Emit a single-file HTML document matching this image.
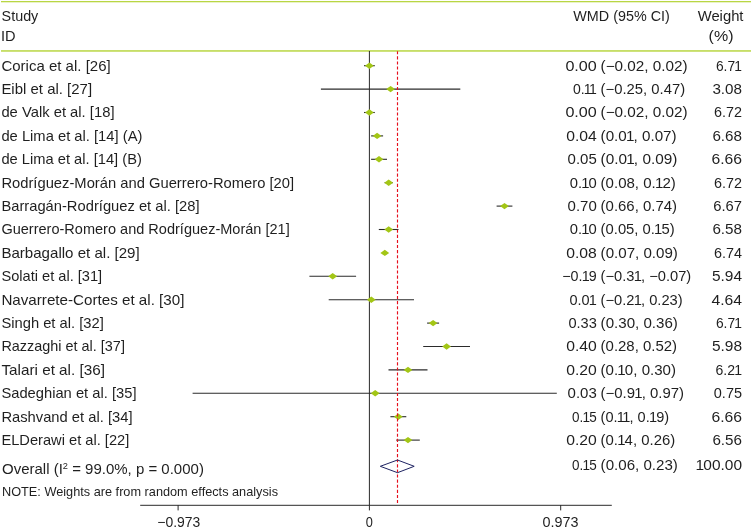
<!DOCTYPE html>
<html lang="en"><head><meta charset="utf-8"><title>Forest plot</title>
<style>
html,body{margin:0;padding:0;background:#fff;}
svg{display:block;will-change:transform;}
text{font-family:"Liberation Sans",sans-serif;font-size:14.6px;fill:#1f1f1f;}
.s{font-size:12.2px}
.n{font-size:14.2px}
.a{font-size:13.8px}
</style></head><body>
<svg width="752" height="529" viewBox="0 0 752 529">
<rect width="752" height="529" fill="#fff"/>
<rect x="1" y="1" width="750" height="1.3" fill="#b9d644"/>
<rect x="1" y="50.2" width="750" height="1.5" fill="#b9d644"/>
<text x="1.6" y="20.9" textLength="36.7" lengthAdjust="spacingAndGlyphs" text-anchor="start">Study</text>
<text x="0.9" y="40.6" textLength="14.6" lengthAdjust="spacingAndGlyphs" text-anchor="start">ID</text>
<text x="573.3" y="20.8" textLength="96.5" lengthAdjust="spacingAndGlyphs" text-anchor="start">WMD (95% CI)</text>
<text x="697.7" y="20.8" textLength="45.8" lengthAdjust="spacingAndGlyphs" text-anchor="start">Weight</text>
<text x="708.6" y="41.0" textLength="24.9" lengthAdjust="spacingAndGlyphs" text-anchor="start">(%)</text>
<line x1="369.4" y1="51" x2="369.4" y2="505" stroke="#2a2a2a" stroke-width="1"/>
<line x1="140.2" y1="505.3" x2="611.8" y2="505.3" stroke="#2b2b2b" stroke-width="1"/>
<line x1="178.1" y1="505" x2="178.1" y2="510.4" stroke="#2b2b2b" stroke-width="1"/>
<line x1="369.4" y1="505" x2="369.4" y2="510.4" stroke="#2b2b2b" stroke-width="1"/>
<line x1="560.7" y1="505" x2="560.7" y2="510.4" stroke="#2b2b2b" stroke-width="1"/>
<text x="157.3" y="526.8" textLength="43.0" lengthAdjust="spacingAndGlyphs" text-anchor="start" class="a">−0.973</text>
<text x="365.7" y="526.8" textLength="7.1" lengthAdjust="spacingAndGlyphs" text-anchor="start" class="a">0</text>
<text x="542.5" y="526.8" textLength="36.0" lengthAdjust="spacingAndGlyphs" text-anchor="start" class="a">0.973</text>
<text x="1.4" y="70.5" textLength="109.3" lengthAdjust="spacingAndGlyphs" text-anchor="start">Corica et al. [26]</text>
<text class="n" x="565.4" y="70.5" textLength="31.4" lengthAdjust="spacingAndGlyphs">0.00</text>
<text class="n" x="600.6" y="70.5" textLength="87.1" lengthAdjust="spacingAndGlyphs">(−0.02, 0.02)</text>
<text class="n" x="715.9" y="70.5" dx="0 0 0 -0.8" textLength="26.1" lengthAdjust="spacingAndGlyphs">6.71</text>
<line x1="364.0" y1="65.7" x2="374.8" y2="65.7" stroke="#2b2b2b" stroke-width="1.1"/>
<polygon points="365.0,65.7 369.4,62.5 373.8,65.7 369.4,68.9" fill="#a3c616"/>
<text x="1.4" y="93.9" textLength="90.7" lengthAdjust="spacingAndGlyphs" text-anchor="start">Eibl et al. [27]</text>
<text class="n" x="572.9" y="93.9" dx="0 0 -0.8 -1.6" textLength="23.9" lengthAdjust="spacingAndGlyphs">0.11</text>
<text class="n" x="600.6" y="93.9" textLength="84.5" lengthAdjust="spacingAndGlyphs">(−0.25, 0.47)</text>
<text class="n" x="712.4" y="93.9" textLength="29.6" lengthAdjust="spacingAndGlyphs">3.08</text>
<line x1="320.9" y1="89.1" x2="460.3" y2="89.1" stroke="#2b2b2b" stroke-width="1.1"/>
<polygon points="386.2,89.1 390.6,85.9 395.0,89.1 390.6,92.3" fill="#a3c616"/>
<text x="1.4" y="117.3" textLength="113.1" lengthAdjust="spacingAndGlyphs" text-anchor="start">de Valk et al. [18]</text>
<text class="n" x="565.4" y="117.3" textLength="31.4" lengthAdjust="spacingAndGlyphs">0.00</text>
<text class="n" x="600.6" y="117.3" textLength="87.1" lengthAdjust="spacingAndGlyphs">(−0.02, 0.02)</text>
<text class="n" x="714.0" y="117.3" textLength="28.0" lengthAdjust="spacingAndGlyphs">6.72</text>
<line x1="364.0" y1="112.5" x2="374.8" y2="112.5" stroke="#2b2b2b" stroke-width="1.1"/>
<polygon points="365.0,112.5 369.4,109.3 373.8,112.5 369.4,115.7" fill="#a3c616"/>
<text x="1.4" y="140.7" textLength="141.0" lengthAdjust="spacingAndGlyphs" text-anchor="start">de Lima et al. [14] (A)</text>
<text class="n" x="566.2" y="140.7" textLength="30.6" lengthAdjust="spacingAndGlyphs">0.04</text>
<text class="n" x="600.6" y="140.7" dx="0 0 0 0 -0.8 -0.8 0 0 0 0 0 0" textLength="76.0" lengthAdjust="spacingAndGlyphs">(0.01, 0.07)</text>
<text class="n" x="712.4" y="140.7" textLength="29.6" lengthAdjust="spacingAndGlyphs">6.68</text>
<line x1="371.1" y1="135.9" x2="383.1" y2="135.9" stroke="#2b2b2b" stroke-width="1.1"/>
<polygon points="372.7,135.9 377.1,132.7 381.5,135.9 377.1,139.1" fill="#a3c616"/>
<text x="1.4" y="164.1" textLength="140.5" lengthAdjust="spacingAndGlyphs" text-anchor="start">de Lima et al. [14] (B)</text>
<text class="n" x="567.6" y="164.1" textLength="29.2" lengthAdjust="spacingAndGlyphs">0.05</text>
<text class="n" x="600.6" y="164.1" dx="0 0 0 0 -0.8 -0.8 0 0 0 0 0 0" textLength="76.8" lengthAdjust="spacingAndGlyphs">(0.01, 0.09)</text>
<text class="n" x="711.4" y="164.1" textLength="30.6" lengthAdjust="spacingAndGlyphs">6.66</text>
<line x1="371.1" y1="159.3" x2="387.0" y2="159.3" stroke="#2b2b2b" stroke-width="1.1"/>
<polygon points="374.6,159.3 379.0,156.1 383.4,159.3 379.0,162.5" fill="#a3c616"/>
<text x="1.4" y="187.5" textLength="292.7" lengthAdjust="spacingAndGlyphs" text-anchor="start">Rodríguez-Morán and Guerrero-Romero [20]</text>
<text class="n" x="569.7" y="187.5" dx="0 0 -0.8 -0.8" textLength="27.1" lengthAdjust="spacingAndGlyphs">0.10</text>
<text class="n" x="600.6" y="187.5" dx="0 0 0 0 0 0 0 0 0 -0.8 -0.8 0" textLength="75.2" lengthAdjust="spacingAndGlyphs">(0.08, 0.12)</text>
<text class="n" x="714.0" y="187.5" textLength="28.0" lengthAdjust="spacingAndGlyphs">6.72</text>
<line x1="384.6" y1="182.7" x2="392.8" y2="182.7" stroke="#2b2b2b" stroke-width="1.1"/>
<polygon points="384.3,182.7 388.7,179.5 393.1,182.7 388.7,185.9" fill="#a3c616"/>
<text x="1.4" y="210.9" textLength="198.1" lengthAdjust="spacingAndGlyphs" text-anchor="start">Barragán-Rodríguez et al. [28]</text>
<text class="n" x="567.6" y="210.9" textLength="29.2" lengthAdjust="spacingAndGlyphs">0.70</text>
<text class="n" x="600.6" y="210.9" textLength="76.5" lengthAdjust="spacingAndGlyphs">(0.66, 0.74)</text>
<text class="n" x="713.2" y="210.9" textLength="28.8" lengthAdjust="spacingAndGlyphs">6.67</text>
<line x1="496.6" y1="206.1" x2="512.4" y2="206.1" stroke="#2b2b2b" stroke-width="1.1"/>
<polygon points="500.1,206.1 504.5,202.9 508.9,206.1 504.5,209.3" fill="#a3c616"/>
<text x="1.4" y="234.3" textLength="288.3" lengthAdjust="spacingAndGlyphs" text-anchor="start">Guerrero-Romero and Rodríguez-Morán [21]</text>
<text class="n" x="569.7" y="234.3" dx="0 0 -0.8 -0.8" textLength="27.1" lengthAdjust="spacingAndGlyphs">0.10</text>
<text class="n" x="600.6" y="234.3" dx="0 0 0 0 0 0 0 0 0 -0.8 -0.8 0" textLength="74.1" lengthAdjust="spacingAndGlyphs">(0.05, 0.15)</text>
<text class="n" x="712.4" y="234.3" textLength="29.6" lengthAdjust="spacingAndGlyphs">6.58</text>
<line x1="378.8" y1="229.5" x2="398.5" y2="229.5" stroke="#2b2b2b" stroke-width="1.1"/>
<polygon points="384.3,229.5 388.7,226.3 393.1,229.5 388.7,232.7" fill="#a3c616"/>
<text x="1.4" y="257.7" textLength="138.3" lengthAdjust="spacingAndGlyphs" text-anchor="start">Barbagallo et al. [29]</text>
<text class="n" x="566.2" y="257.7" textLength="30.6" lengthAdjust="spacingAndGlyphs">0.08</text>
<text class="n" x="600.6" y="257.7" textLength="77.3" lengthAdjust="spacingAndGlyphs">(0.07, 0.09)</text>
<text class="n" x="714.0" y="257.7" textLength="28.0" lengthAdjust="spacingAndGlyphs">6.74</text>
<line x1="382.7" y1="252.9" x2="387.0" y2="252.9" stroke="#2b2b2b" stroke-width="1.1"/>
<polygon points="380.4,252.9 384.8,249.7 389.2,252.9 384.8,256.1" fill="#a3c616"/>
<text x="1.4" y="281.1" textLength="100.8" lengthAdjust="spacingAndGlyphs" text-anchor="start">Solati et al. [31]</text>
<text class="n" x="562.2" y="281.1" dx="0 0 0 -0.8 -0.8" textLength="34.6" lengthAdjust="spacingAndGlyphs">−0.19</text>
<text class="n" x="600.6" y="281.1" dx="0 0 0 0 0 -0.8 -0.8 0 0 0 0 0 0 0" textLength="90.6" lengthAdjust="spacingAndGlyphs">(−0.31, −0.07)</text>
<text class="n" x="711.9" y="281.1" textLength="30.1" lengthAdjust="spacingAndGlyphs">5.94</text>
<line x1="309.4" y1="276.3" x2="356.1" y2="276.3" stroke="#2b2b2b" stroke-width="1.1"/>
<polygon points="328.3,276.3 332.7,273.1 337.1,276.3 332.7,279.5" fill="#a3c616"/>
<text x="1.4" y="304.5" textLength="183.0" lengthAdjust="spacingAndGlyphs" text-anchor="start">Navarrete-Cortes et al. [30]</text>
<text class="n" x="569.4" y="304.5" dx="0 0 0 -0.8" textLength="27.4" lengthAdjust="spacingAndGlyphs">0.01</text>
<text class="n" x="600.6" y="304.5" dx="0 0 0 0 0 -0.8 -0.8 0 0 0 0 0 0" textLength="82.1" lengthAdjust="spacingAndGlyphs">(−0.21, 0.23)</text>
<text class="n" x="711.4" y="304.5" textLength="30.6" lengthAdjust="spacingAndGlyphs">4.64</text>
<line x1="328.7" y1="299.7" x2="414.0" y2="299.7" stroke="#2b2b2b" stroke-width="1.1"/>
<polygon points="366.9,299.7 371.3,296.5 375.7,299.7 371.3,302.9" fill="#a3c616"/>
<text x="1.4" y="327.9" textLength="102.4" lengthAdjust="spacingAndGlyphs" text-anchor="start">Singh et al. [32]</text>
<text class="n" x="568.4" y="327.9" textLength="28.4" lengthAdjust="spacingAndGlyphs">0.33</text>
<text class="n" x="600.6" y="327.9" textLength="77.3" lengthAdjust="spacingAndGlyphs">(0.30, 0.36)</text>
<text class="n" x="715.9" y="327.9" dx="0 0 0 -0.8" textLength="26.1" lengthAdjust="spacingAndGlyphs">6.71</text>
<line x1="427.1" y1="323.1" x2="439.1" y2="323.1" stroke="#2b2b2b" stroke-width="1.1"/>
<polygon points="428.7,323.1 433.1,319.9 437.5,323.1 433.1,326.3" fill="#a3c616"/>
<text x="1.4" y="351.3" textLength="123.5" lengthAdjust="spacingAndGlyphs" text-anchor="start">Razzaghi et al. [37]</text>
<text class="n" x="566.2" y="351.3" textLength="30.6" lengthAdjust="spacingAndGlyphs">0.40</text>
<text class="n" x="600.6" y="351.3" textLength="76.5" lengthAdjust="spacingAndGlyphs">(0.28, 0.52)</text>
<text class="n" x="711.9" y="351.3" textLength="30.1" lengthAdjust="spacingAndGlyphs">5.98</text>
<line x1="423.2" y1="346.5" x2="470.0" y2="346.5" stroke="#2b2b2b" stroke-width="1.1"/>
<polygon points="442.2,346.5 446.6,343.3 451.0,346.5 446.6,349.7" fill="#a3c616"/>
<text x="1.4" y="374.7" textLength="103.6" lengthAdjust="spacingAndGlyphs" text-anchor="start">Talari et al. [36]</text>
<text class="n" x="566.2" y="374.7" textLength="30.6" lengthAdjust="spacingAndGlyphs">0.20</text>
<text class="n" x="600.6" y="374.7" dx="0 0 0 -0.8 -0.8 0 0 0 0 0 0 0" textLength="75.4" lengthAdjust="spacingAndGlyphs">(0.10, 0.30)</text>
<text class="n" x="715.4" y="374.7" dx="0 0 0 -0.8" textLength="26.6" lengthAdjust="spacingAndGlyphs">6.21</text>
<line x1="388.5" y1="369.9" x2="427.5" y2="369.9" stroke="#2b2b2b" stroke-width="1.1"/>
<polygon points="403.6,369.9 408.0,366.7 412.4,369.9 408.0,373.1" fill="#a3c616"/>
<text x="1.4" y="398.1" textLength="135.1" lengthAdjust="spacingAndGlyphs" text-anchor="start">Sadeghian et al. [35]</text>
<text class="n" x="567.6" y="398.1" textLength="29.2" lengthAdjust="spacingAndGlyphs">0.03</text>
<text class="n" x="600.6" y="398.1" dx="0 0 0 0 0 -0.8 -0.8 0 0 0 0 0 0" textLength="83.4" lengthAdjust="spacingAndGlyphs">(−0.91, 0.97)</text>
<text class="n" x="713.8" y="398.1" textLength="28.2" lengthAdjust="spacingAndGlyphs">0.75</text>
<line x1="192.6" y1="393.3" x2="556.8" y2="393.3" stroke="#2b2b2b" stroke-width="1.1"/>
<polygon points="370.8,393.3 375.2,390.1 379.6,393.3 375.2,396.5" fill="#a3c616"/>
<text x="1.4" y="421.5" textLength="131.1" lengthAdjust="spacingAndGlyphs" text-anchor="start">Rashvand et al. [34]</text>
<text class="n" x="572.1" y="421.5" dx="0 0 -0.8 -0.8" textLength="24.7" lengthAdjust="spacingAndGlyphs">0.15</text>
<text class="n" x="600.6" y="421.5" dx="0 0 0 -0.8 -1.6 -0.8 0 0 0 -0.8 -0.8 0" textLength="68.5" lengthAdjust="spacingAndGlyphs">(0.11, 0.19)</text>
<text class="n" x="711.4" y="421.5" textLength="30.6" lengthAdjust="spacingAndGlyphs">6.66</text>
<line x1="390.4" y1="416.7" x2="406.3" y2="416.7" stroke="#2b2b2b" stroke-width="1.1"/>
<polygon points="393.9,416.7 398.3,413.5 402.7,416.7 398.3,419.9" fill="#a3c616"/>
<text x="1.4" y="444.9" textLength="127.9" lengthAdjust="spacingAndGlyphs" text-anchor="start">ELDerawi et al. [22]</text>
<text class="n" x="566.2" y="444.9" textLength="30.6" lengthAdjust="spacingAndGlyphs">0.20</text>
<text class="n" x="600.6" y="444.9" dx="0 0 0 -0.8 -0.8 0 0 0 0 0 0 0" textLength="74.6" lengthAdjust="spacingAndGlyphs">(0.14, 0.26)</text>
<text class="n" x="712.4" y="444.9" textLength="29.6" lengthAdjust="spacingAndGlyphs">6.56</text>
<line x1="396.2" y1="440.1" x2="419.8" y2="440.1" stroke="#2b2b2b" stroke-width="1.1"/>
<polygon points="403.6,440.1 408.0,436.9 412.4,440.1 408.0,443.3" fill="#a3c616"/>
<line x1="397.5" y1="51.2" x2="397.5" y2="505" stroke="#e60f1c" stroke-width="1.15" stroke-dasharray="3.1 2"/>
<text x="2.0" y="473.8" textLength="201.9" lengthAdjust="spacingAndGlyphs">Overall (I<tspan font-size="9px" dy="-4.5">2</tspan><tspan dy="4.5"> = 99.0%, p = 0.000)</tspan></text>
<text class="n" x="572.1" y="470.2" dx="0 0 -0.8 -0.8" textLength="24.7" lengthAdjust="spacingAndGlyphs">0.15</text>
<text class="n" x="600.6" y="470.2" textLength="77.3" lengthAdjust="spacingAndGlyphs">(0.06, 0.23)</text>
<text class="n" x="695.6" y="470.2" dx="0 -0.8 0 0 0 0" textLength="46.4" lengthAdjust="spacingAndGlyphs">100.00</text>
<polygon points="380.3,466.3 397.5,460 414.2,466.3 397.5,472.7" fill="none" stroke="#1e2362" stroke-width="1"/>
<text x="2.0" y="495.6" textLength="276.0" lengthAdjust="spacingAndGlyphs" text-anchor="start" class="s">NOTE: Weights are from random effects analysis</text>
</svg></body></html>
